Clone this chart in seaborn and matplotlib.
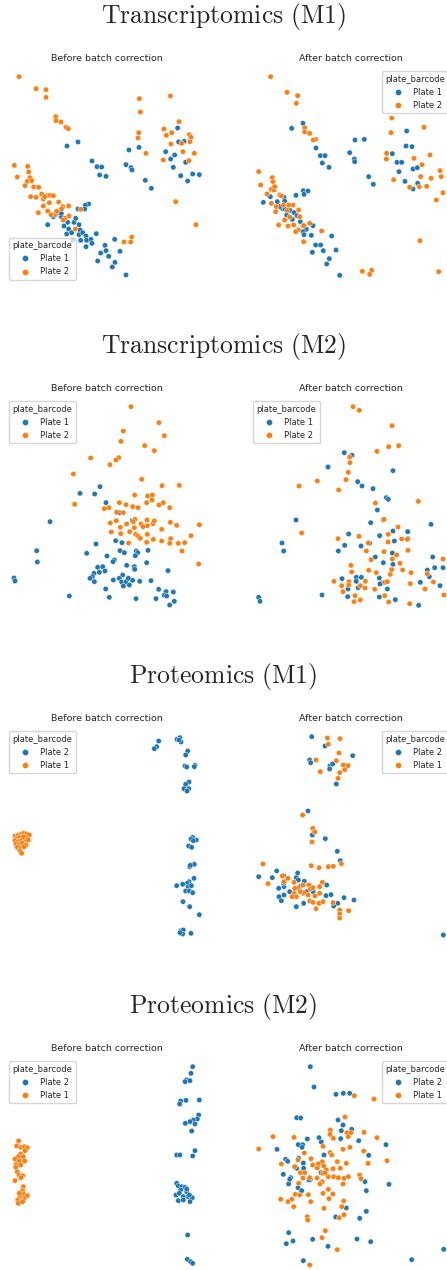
import matplotlib
matplotlib.use("Agg")
import matplotlib.pyplot as plt
import pandas as pd
import seaborn as sns

sns.set_theme(style="white")
plt.rcParams["font.family"] = ["DejaVu Sans"]
plt.rcParams["mathtext.fontset"] = "cm"

# ---------------------------------------------------------------------------
# 2-D embedding coordinates (umap_1, umap_2) of every sample, per omics layer,
# per correction state and per plate.  umap_2 grows downwards on screen.
# ---------------------------------------------------------------------------

# Transcriptomics (M1) - before correction
TRX_M1_BEFORE_P1 = [
    (234, 276), (201, 288), (276, 333), (291, 350), (305, 351), (299, 375), (318, 379), (378, 344),
    (393, 353), (396, 360), (417, 292), (387, 300), (533, 234), (536, 276), (552, 274), (497, 305),
    (512, 327), (524, 315), (520, 352), (542, 377), (563, 393), (557, 337), (578, 372), (598, 374),
    (436, 391), (454, 415), (266, 462), (256, 466), (254, 477), (234, 477), (143, 524), (160, 500),
    (178, 490), (184, 500), (184, 490), (203, 517), (192, 528), (222, 517), (227, 505), (206, 537),
    (200, 552), (218, 571), (237, 524), (240, 540), (237, 554), (248, 548), (258, 558), (260, 571),
    (242, 571), (273, 568), (276, 580), (258, 590), (289, 551), (315, 586), (318, 602), (302, 609),
    (344, 568), (360, 604), (326, 619), (345, 637), (337, 651), (293, 633), (378, 675), (165, 495),
    (215, 548),
]
TRX_M1_BEFORE_P2 = [
    (57, 80), (108, 116), (138, 119), (138, 142), (167, 200), (168, 212), (183, 216), (198, 232),
    (205, 236), (418, 146), (421, 186), (511, 138), (416, 248), (414, 264), (537, 215), (492, 237),
    (515, 248), (568, 254), (573, 262), (570, 275), (499, 256), (513, 282), (583, 310), (567, 332),
    (549, 305), (545, 280), (438, 310), (490, 330), (527, 455), (588, 524), (43, 346), (83, 349),
    (86, 366), (52, 381), (90, 383), (82, 394), (95, 392), (75, 407), (101, 411), (116, 412),
    (92, 440), (108, 442), (125, 432), (139, 437), (130, 447), (150, 436), (160, 437), (148, 458),
    (176, 456), (206, 468), (188, 470), (130, 468), (115, 488), (143, 483), (153, 494), (167, 491),
    (170, 484), (185, 476), (207, 498), (195, 505), (190, 510), (242, 478), (226, 537), (372, 576),
    (392, 576), (395, 561), (134, 440),
]

# Transcriptomics (M1) - after correction
TRX_M1_AFTER_P1 = [
    (206, 235), (240, 220), (279, 294), (292, 317), (306, 317), (298, 339), (318, 352), (380, 308),
    (396, 270), (424, 268), (394, 327), (395, 335), (437, 380), (451, 403), (551, 243), (549, 288),
    (567, 290), (508, 311), (522, 337), (536, 337), (528, 365), (570, 357), (583, 353), (546, 394),
    (584, 400), (570, 417), (241, 422), (255, 423), (243, 433), (219, 436), (121, 457), (142, 440),
    (163, 455), (177, 475), (183, 442), (185, 453), (201, 481), (191, 495), (213, 488), (222, 497),
    (208, 508), (232, 515), (240, 527), (250, 538), (240, 545), (270, 527), (243, 554), (265, 556),
    (278, 585), (293, 585), (268, 607), (301, 602), (326, 558), (339, 600), (319, 626), (311, 642),
    (350, 676), (186, 478), (170, 470),
]
TRX_M1_AFTER_P2 = [
    (143, 80), (192, 127), (224, 137), (220, 160), (245, 233), (245, 246), (260, 250), (278, 268),
    (271, 270), (506, 204), (504, 248), (603, 232), (491, 310), (490, 327), (573, 325), (621, 315),
    (597, 344), (651, 362), (655, 380), (660, 428), (640, 450), (624, 385), (611, 409), (593, 380),
    (589, 410), (560, 412), (512, 389), (591, 572), (418, 664), (446, 661), (440, 673), (647, 665),
    (107, 365), (113, 405), (148, 383), (150, 395), (145, 418), (132, 432), (153, 420), (170, 435),
    (145, 460), (160, 470), (158, 485), (181, 465), (193, 481), (210, 465), (200, 501), (185, 510),
    (227, 480), (230, 500), (167, 525), (195, 528), (212, 525), (226, 540), (218, 545), (242, 527),
    (260, 520), (242, 575), (296, 543), (175, 438), (197, 465), (155, 410),
]

# Transcriptomics (M2) - before correction
TRX_M2_BEFORE_P1 = [
    (300, 320), (240, 340), (284, 342), (318, 368), (358, 398), (397, 422), (150, 425), (288, 492),
    (260, 520), (347, 482), (366, 488), (360, 512), (373, 518), (321, 528), (343, 540), (339, 545),
    (409, 513), (413, 518), (406, 527), (444, 511), (440, 548), (380, 556), (403, 560), (404, 568),
    (110, 512), (112, 546), (293, 562), (308, 560), (298, 577), (315, 573), (282, 580), (277, 590),
    (270, 595), (283, 605), (368, 585), (358, 595), (340, 600), (365, 606), (378, 605), (385, 595),
    (398, 601), (419, 604), (453, 602), (504, 572), (476, 628), (498, 635), (520, 636), (493, 646),
    (500, 648), (317, 627), (370, 618), (388, 615), (42, 594), (45, 603), (208, 648), (328, 652),
    (408, 656), (468, 656), (509, 675), (523, 664),
]
TRX_M2_BEFORE_P2 = [
    (393, 80), (477, 128), (493, 167), (370, 153), (363, 184), (434, 197), (463, 212), (356, 233),
    (348, 240), (272, 234), (330, 254), (220, 282), (425, 298), (486, 317), (538, 316), (224, 373),
    (404, 345), (443, 348), (457, 345), (456, 360), (490, 368), (477, 375), (440, 368), (509, 383),
    (414, 383), (398, 380), (378, 374), (358, 368), (327, 383), (313, 386), (370, 398), (350, 397),
    (349, 422), (331, 429), (380, 432), (405, 418), (403, 443), (361, 442), (334, 456), (362, 461),
    (389, 455), (407, 463), (414, 468), (423, 432), (441, 420), (442, 437), (459, 431), (463, 423),
    (485, 448), (511, 427), (530, 436), (598, 434), (573, 467), (554, 488), (535, 490), (512, 476),
    (509, 490), (485, 483), (460, 478), (442, 463), (440, 487), (386, 489), (546, 513), (596, 552),
    (421, 475), (429, 440), (400, 425),
]

# Transcriptomics (M2) - after correction
TRX_M2_AFTER_P1 = [
    (364, 218), (387, 226), (315, 261), (404, 305), (417, 318), (450, 326), (490, 353), (496, 358),
    (463, 390), (510, 272), (219, 420), (443, 428), (481, 420), (377, 462), (470, 467), (510, 453),
    (514, 483), (554, 455), (365, 496), (346, 513), (414, 498), (440, 490), (457, 531), (508, 519),
    (481, 548), (510, 553), (555, 476), (624, 433), (629, 531), (613, 570), (635, 563), (660, 563),
    (619, 590), (592, 607), (651, 617), (357, 596), (400, 592), (415, 592), (400, 604), (469, 594),
    (477, 609), (471, 612), (493, 627), (375, 627), (374, 650), (406, 623), (297, 645), (107, 652),
    (111, 664), (469, 651), (517, 659), (587, 676), (177, 489), (182, 513),
]
TRX_M2_AFTER_P2 = [
    (390, 80), (409, 91), (507, 137), (497, 200), (527, 197), (462, 214), (380, 231), (381, 248),
    (376, 277), (369, 299), (283, 303), (228, 318), (347, 330), (457, 369), (483, 418), (236, 459),
    (345, 476), (408, 469), (496, 463), (525, 441), (536, 477), (495, 486), (553, 478), (436, 489),
    (430, 513), (483, 515), (508, 537), (521, 525), (531, 550), (555, 511), (586, 364), (384, 556),
    (386, 576), (378, 605), (437, 571), (460, 578), (427, 604), (412, 617), (426, 624), (455, 628),
    (485, 607), (502, 583), (506, 569), (539, 570), (493, 605), (444, 539), (377, 615), (360, 635),
    (333, 604), (356, 617), (396, 647), (412, 660), (393, 665), (485, 647), (497, 666), (560, 671),
    (562, 611), (606, 627), (613, 581), (631, 606), (660, 537), (663, 645), (564, 578),
]

# Proteomics (M1) - before correction
PROT_M1_BEFORE_P2 = [
    (476, 93), (470, 110), (463, 116), (531, 88), (540, 83), (543, 96), (537, 90), (563, 123),
    (557, 135), (555, 168), (560, 171), (585, 166), (583, 170), (567, 216), (557, 223), (552, 236),
    (566, 236), (561, 243), (578, 382), (573, 387), (589, 390), (580, 392), (566, 408), (575, 412),
    (583, 463), (569, 470), (571, 466), (582, 505), (567, 515), (562, 520), (548, 523), (530, 527),
    (565, 530), (574, 527), (557, 543), (568, 543), (578, 548), (549, 575), (569, 590), (598, 614),
    (543, 662), (550, 660), (548, 672), (540, 668), (573, 670),
]
PROT_M1_BEFORE_P1 = [
    (45, 378), (55, 375), (65, 372), (72, 370), (80, 372), (88, 375), (50, 385), (60, 382),
    (70, 384), (78, 383), (45, 392), (55, 395), (65, 393), (75, 392), (85, 390), (48, 402),
    (58, 404), (68, 400), (78, 405), (52, 412), (62, 414), (72, 410), (60, 422), (65, 430),
    (70, 380),
]

# Proteomics (M1) - after correction
PROT_M1_AFTER_P2 = [
    (266, 80), (306, 108), (260, 150), (263, 158), (321, 168), (329, 162), (320, 177), (389, 137),
    (340, 222), (255, 303), (268, 375), (307, 386), (343, 424), (352, 452), (107, 500), (148, 503),
    (161, 483), (182, 497), (224, 489), (220, 503), (226, 510), (244, 514), (167, 535), (183, 530),
    (183, 555), (168, 560), (175, 572), (200, 545), (220, 590), (242, 580), (240, 550), (250, 545),
    (270, 545), (311, 525), (324, 554), (309, 557), (344, 580), (332, 588), (363, 563), (393, 570),
    (661, 675), (182, 520), (230, 530),
]
PROT_M1_AFTER_P1 = [
    (313, 84), (351, 86), (316, 103), (348, 129), (340, 152), (279, 150), (292, 185), (361, 165),
    (375, 167), (365, 179), (350, 188), (345, 205), (239, 315), (269, 355), (275, 366), (267, 396),
    (265, 467), (288, 473), (316, 470), (331, 469), (355, 461), (120, 462), (135, 521), (178, 498),
    (183, 515), (195, 505), (213, 517), (225, 535), (213, 550), (220, 560), (207, 560), (240, 525),
    (258, 525), (262, 537), (270, 533), (290, 530), (298, 517), (290, 550), (276, 558), (260, 573),
    (270, 577), (288, 580), (300, 575), (279, 596), (330, 578), (350, 600), (350, 612), (350, 624),
    (377, 602), (242, 548), (255, 555), (232, 545), (215, 535),
]

# Proteomics (M2) - before correction
PROT_M2_BEFORE_P2 = [
    (578, 80), (573, 100), (560, 120), (570, 122), (555, 125), (542, 183), (558, 181), (598, 180),
    (539, 192), (596, 225), (592, 237), (580, 240), (570, 245), (556, 250), (585, 252), (575, 273),
    (585, 332), (578, 348), (530, 345), (540, 345), (530, 430), (535, 438), (545, 440), (555, 442),
    (542, 450), (560, 455), (528, 465), (538, 460), (550, 470), (565, 470), (577, 473), (568, 465),
    (560, 447), (535, 482), (550, 480), (570, 485), (563, 585), (562, 658), (572, 665), (578, 670),
]
PROT_M2_BEFORE_P1 = [
    (56, 303), (50, 318), (63, 322), (73, 320), (82, 323), (75, 332), (62, 342), (55, 350),
    (70, 350), (45, 357), (58, 363), (74, 363), (48, 374), (62, 375), (47, 382), (52, 396),
    (57, 405), (68, 407), (63, 413), (45, 422), (70, 440), (68, 452), (72, 463), (82, 467),
    (60, 470), (72, 476), (53, 480), (65, 483), (55, 490), (68, 485), (58, 460),
]

# Proteomics (M2) - after correction
PROT_M2_AFTER_P2 = [
    (262, 80), (273, 141), (339, 163), (361, 160), (380, 160), (221, 233), (233, 234), (345, 240),
    (360, 255), (355, 272), (386, 268), (353, 296), (407, 302), (253, 297), (288, 293), (295, 306),
    (239, 314), (226, 314), (237, 322), (162, 328), (489, 314), (437, 346), (303, 345), (188, 358),
    (194, 364), (227, 355), (221, 385), (242, 385), (241, 369), (331, 387), (294, 398), (262, 418),
    (203, 413), (197, 432), (181, 403), (200, 418), (225, 443), (236, 452), (426, 425), (430, 452),
    (498, 433), (370, 504), (430, 514), (338, 531), (410, 535), (197, 578), (190, 611), (210, 603),
    (269, 598), (315, 619), (402, 597), (443, 605), (662, 628), (566, 659), (241, 662), (258, 420),
]
PROT_M2_AFTER_P1 = [
    (394, 167), (453, 177), (366, 231), (150, 290), (213, 292), (107, 327), (322, 270), (321, 283),
    (331, 295), (372, 278), (384, 278), (376, 290), (423, 277), (462, 293), (381, 322), (360, 328),
    (300, 319), (321, 338), (326, 345), (244, 339), (225, 360), (264, 356), (175, 372), (215, 380),
    (298, 365), (286, 372), (269, 375), (302, 378), (283, 384), (310, 390), (299, 400), (330, 386),
    (352, 385), (370, 370), (343, 365), (435, 370), (422, 333), (492, 362), (232, 398), (245, 398),
    (260, 413), (240, 414), (227, 430), (282, 414), (298, 425), (291, 432), (316, 410), (332, 410),
    (346, 413), (363, 415), (376, 410), (360, 432), (410, 405), (414, 416), (316, 448), (300, 460),
    (318, 476), (330, 462), (217, 463), (230, 465), (256, 464), (206, 478), (195, 485), (173, 478),
    (212, 500), (263, 485), (303, 505), (356, 500), (362, 483), (363, 524), (349, 533), (253, 530),
    (254, 540), (307, 572), (297, 593), (343, 629), (260, 675), (306, 399),
]

ROW_TITLES = ["Transcriptomics (M1)", "Transcriptomics (M2)", "Proteomics (M1)", "Proteomics (M2)"]
PANEL_TITLES = ["Before batch correction", "After batch correction"]
HUE_ORDERS = [["Plate 1", "Plate 2"], ["Plate 1", "Plate 2"],
              ["Plate 2", "Plate 1"], ["Plate 2", "Plate 1"]]
LEGEND_LOCS = [["lower left", "upper right"], ["upper left", "upper left"],
               ["upper left", "upper right"], ["upper left", "upper right"]]

# (first hue, second hue) point lists for the before / after panels of each row
PANEL_POINTS = [
    [(TRX_M1_BEFORE_P1, TRX_M1_BEFORE_P2), (TRX_M1_AFTER_P1, TRX_M1_AFTER_P2)],
    [(TRX_M2_BEFORE_P1, TRX_M2_BEFORE_P2), (TRX_M2_AFTER_P1, TRX_M2_AFTER_P2)],
    [(PROT_M1_BEFORE_P2, PROT_M1_BEFORE_P1), (PROT_M1_AFTER_P2, PROT_M1_AFTER_P1)],
    [(PROT_M2_BEFORE_P2, PROT_M2_BEFORE_P1), (PROT_M2_AFTER_P2, PROT_M2_AFTER_P1)],
]

# visible window of the embedding in each column
XLIMS = [(15, 627), (78, 690)]
YLIM = (702, 51)


def to_frame(first, second, labels):
    rows = [(x, y, labels[0]) for x, y in first] + [(x, y, labels[1]) for x, y in second]
    return pd.DataFrame(rows, columns=["umap_1", "umap_2", "plate_barcode"])


W, H = 447, 1270
fig = plt.figure(figsize=(W / 100, H / 100), dpi=100)


def px_axes(left, top, width, height):
    return fig.add_axes([left / W, 1 - (top + height) / H, width / W, height / H])


palette = sns.color_palette("tab10", 2)

for r, title in enumerate(ROW_TITLES):
    top = 67 + 330 * r
    label = title.replace(" ", r"\ ")
    fig.text(0.5, 1 - (23 + 330 * r) / H, rf"$\mathrm{{{label}}}$",
             ha="center", va="baseline", fontsize=18.5)
    for c, left in enumerate([5, 249]):
        ax = px_axes(left, top, 204, 217)
        first, second = PANEL_POINTS[r][c]
        df = to_frame(first, second, HUE_ORDERS[r])
        sns.scatterplot(data=df, x="umap_1", y="umap_2", hue="plate_barcode",
                        hue_order=HUE_ORDERS[r], palette=palette, s=15, ax=ax)
        ax.set_xlim(*XLIMS[c])
        ax.set_ylim(*YLIM)
        ax.set_axis_off()
        ax.set_title(PANEL_TITLES[c], fontsize=6.8, pad=4, color="#262626")
        sns.move_legend(ax, LEGEND_LOCS[r][c], title="plate_barcode",
                        fontsize=6.0, title_fontsize=6.0, frameon=True,
                        markerscale=1.15)

fig.savefig("out.png", dpi=100)
